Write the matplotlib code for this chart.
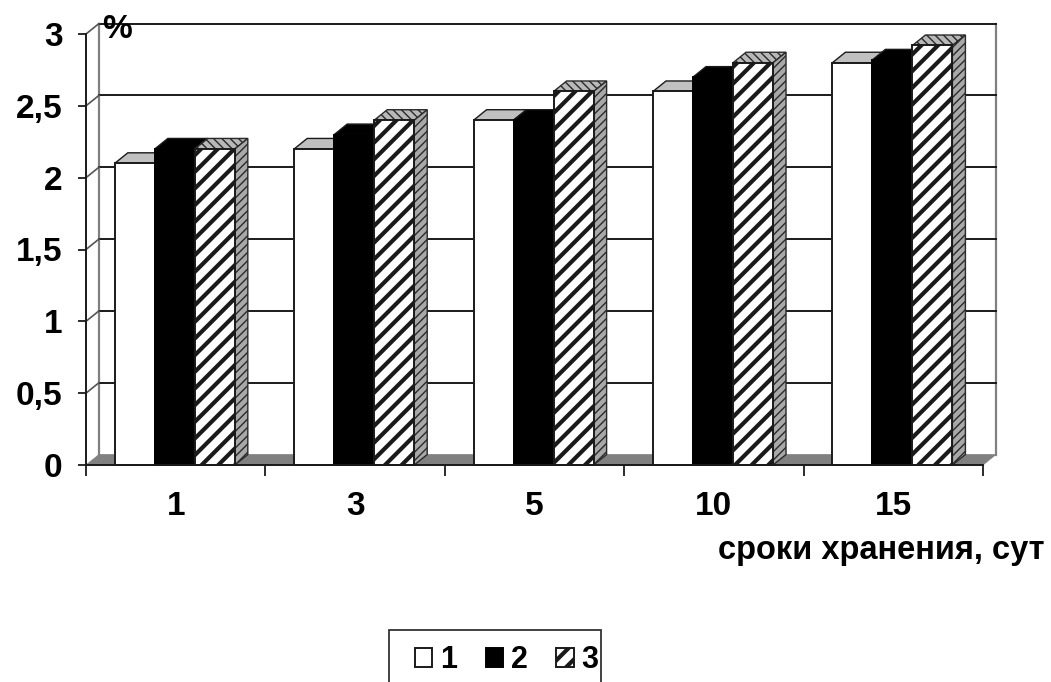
import matplotlib
matplotlib.use('Agg')
import matplotlib.pyplot as plt
import numpy as np
from matplotlib.patches import Polygon, Rectangle

plt.rcParams['font.family'] = ['Liberation Sans', 'DejaVu Sans']
plt.rcParams['font.weight'] = 'bold'
plt.rcParams['hatch.linewidth'] = 3.0

categories = ['1', '3', '5', '10', '15']
series_names = ['1', '2', '3']
values_1 = [2.1, 2.2, 2.4, 2.6, 2.8]
values_2 = [2.2, 2.3, 2.4, 2.7, 2.82]
values_3 = [2.2, 2.4, 2.6, 2.8, 2.92]
y_ticks = [0, 0.5, 1, 1.5, 2, 2.5, 3]
y_labels = ['0', '0,5', '1', '1,5', '2', '2,5', '3']

W, H = 1051, 682
dark = '#1a1a1a'
# 3d offset of the back wall, in data units
dx = 0.0725
dy = 0.073
bar_w = 0.223

fig = plt.figure(figsize=(W / 100, H / 100), dpi=100, facecolor='white')
ax = fig.add_axes([86 / W, (H - 465) / H, 897 / W, 431 / H])
ax.set_xlim(0, 5)
ax.set_ylim(0, 3)
ax.patch.set_visible(False)
for s in ['top', 'right']:
    ax.spines[s].set_visible(False)
for s in ['left', 'bottom']:
    ax.spines[s].set_linewidth(1.4)
    ax.spines[s].set_color(dark)
    ax.spines[s].set_zorder(6)

# floor and walls
ax.add_patch(Polygon([(0, 0), (5, 0), (5 + dx, dy), (dx, dy)], facecolor='#808080',
                     edgecolor='#808080', lw=0.5, clip_on=False, zorder=1))
ax.plot([dx, dx], [dy, 3 + dy], color='#808080', lw=1.6, clip_on=False, zorder=1)
ax.plot([5 + dx, 5 + dx], [dy, 3 + dy], color='#808080', lw=1.6, clip_on=False, zorder=1)
for t in y_ticks[1:]:
    ax.plot([dx, 5 + dx], [t + dy, t + dy], color=dark, lw=1.4, clip_on=False, zorder=1.5)
    ax.plot([0, dx], [t, t + dy], color='#555555', lw=1.2, clip_on=False, zorder=1.5)

x = np.arange(len(categories)) + 0.495
styles = [
    dict(color='white', edgecolor=dark, linewidth=1.4),
    dict(color='black', edgecolor='black', linewidth=1.4),
    dict(color='white', edgecolor=dark, linewidth=1.4, hatch='//'),
]
tops = ['#c0c0c0', 'black', '#b8b8b8']
sides = ['#808080', 'black', '#a8a8a8']
side_hatch = [None, None, '////']
top_hatch = [None, None, '\\\\\\\\']
face_edge = [dark, dark, '#2a2a2a']

for k, vals in enumerate([values_1, values_2, values_3]):
    pos = x + (k - 1) * bar_w
    st = styles[k]
    for p, v in zip(pos, vals):
        left, right = p - bar_w / 2, p + bar_w / 2
        top = Polygon([(left, v), (right, v), (right + dx, v + dy), (left + dx, v + dy)],
                      facecolor=tops[k], edgecolor=face_edge[k], lw=1.0, hatch=top_hatch[k],
                      clip_on=False, zorder=3 + k)
        side = Polygon([(right, 0), (right + dx, dy), (right + dx, v + dy), (right, v)],
                       facecolor=sides[k], edgecolor=face_edge[k], lw=1.0, hatch=side_hatch[k],
                       clip_on=False, zorder=3 + k)
        for face in (top, side):
            if hasattr(face, 'set_hatch_linewidth'):
                face.set_hatch_linewidth(1.0)
            ax.add_patch(face)
    ax.bar(pos, vals, bar_w, label=series_names[k], zorder=3.5 + k, clip_on=False, **st)

ax.set_yticks(y_ticks)
ax.set_yticklabels(y_labels)
ax.set_xticks(np.arange(6))
ax.set_xticklabels([])
ax.set_xticks(np.arange(len(categories)) + 0.5, categories, minor=True)
ax.tick_params(axis='x', which='major', length=8, width=1.3, color=dark)
ax.tick_params(axis='x', which='minor', length=0, pad=19, labelsize=24)
ax.tick_params(axis='y', length=6, width=1.3, color=dark, pad=11, labelsize=24)

ax.text(117 / W, 1 - 30 / H, '%', transform=fig.transFigure, fontsize=24, ha='center', va='center',
        zorder=8)
ax.text(1045 / W, 1 - 551 / H, 'сроки хранения, сут', transform=fig.transFigure, fontsize=23.5,
        ha='right', va='center')

# legend box runs off the bottom of the picture
fig.add_artist(Rectangle((389 / W, -10 / H), 212 / W, (H - 630 + 10) / H, transform=fig.transFigure,
                         facecolor='white', edgecolor='#333333', lw=1.3))
leg = fig.legend(loc='center left', bbox_to_anchor=(415 / W, 1 - 660 / H), ncols=3, fontsize=22,
                 frameon=False, borderpad=0, handlelength=0.56, handleheight=0.56,
                 handletextpad=0.25, columnspacing=0.95, borderaxespad=0)

fig.savefig('out.png', dpi=100)
